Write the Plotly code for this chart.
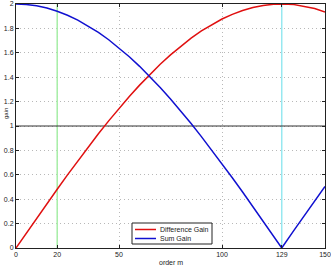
import plotly.graph_objects as go

m_vals = [0, 5, 10, 15, 20, 25, 30, 35, 40, 45, 50, 55, 60, 65, 70, 75, 80, 85, 90, 95,
          100, 105, 110, 115, 120, 125, 129, 135, 140, 145, 150]
diff_gain = [0.0, 0.122, 0.243, 0.363, 0.482, 0.599, 0.714, 0.827, 0.936, 1.042, 1.144,
             1.242, 1.335, 1.423, 1.506, 1.583, 1.655, 1.720, 1.779, 1.831, 1.877, 1.915,
             1.947, 1.971, 1.988, 1.998, 2.0, 1.995, 1.982, 1.963, 1.935]
sum_gain = [2.0, 1.996, 1.985, 1.967, 1.941, 1.908, 1.868, 1.821, 1.768, 1.707, 1.641,
            1.568, 1.489, 1.405, 1.316, 1.222, 1.123, 1.021, 0.913, 0.804, 0.691, 0.576,
            0.459, 0.339, 0.219, 0.097, 0.0, 0.146, 0.268, 0.387, 0.504]
x_ticks = [0, 20, 50, 100, 129, 150]
y_ticks = [0, 0.2, 0.4, 0.6, 0.8, 1, 1.2, 1.4, 1.6, 1.8, 2]
series_names = ["Difference Gain", "Sum Gain"]
series_colors = ["#e01010", "#1010d0"]
green_marker_x = 20
cyan_marker_x = 129
ref_level_y = 1

W, H = 331, 269
ML, MR, MT, MB = 16, 6, 4, 21
PW, PH = W - ML - MR, H - MT - MB


def px_x(p):
    return (p - ML) / PW


def px_y(p):
    return (H - MB - p) / PH


fig = go.Figure()
fig.add_trace(go.Scatter(x=[green_marker_x, green_marker_x], y=[0, 2], mode="lines",
                         line=dict(color="#a6eea6", width=1.5), showlegend=False, hoverinfo="skip"))
fig.add_trace(go.Scatter(x=[cyan_marker_x, cyan_marker_x], y=[0, 2], mode="lines",
                         line=dict(color="#96e8f0", width=1.5), showlegend=False, hoverinfo="skip"))
fig.add_trace(go.Scatter(x=[0, 150], y=[ref_level_y, ref_level_y], mode="lines",
                         line=dict(color="#333333", width=1), showlegend=False, hoverinfo="skip"))
for name, ys, col in zip(series_names, [diff_gain, sum_gain], series_colors):
    fig.add_trace(go.Scatter(x=m_vals, y=ys, mode="lines", name=name,
                             line=dict(color=col, width=1.5), showlegend=False))

axis_common = dict(showline=True, linecolor="#222222", linewidth=1, mirror="ticks",
                   ticks="inside", ticklen=3, tickcolor="#222222",
                   showgrid=True, gridcolor="#b8b8b8", griddash="1px,3px", gridwidth=1,
                   zeroline=False, tickfont=dict(size=7, color="#222222"), automargin=False)

fig.update_xaxes(range=[0, 150], tickvals=x_ticks, ticktext=[str(v) for v in x_ticks],
                 **axis_common)
fig.update_yaxes(range=[0, 2], tickvals=y_ticks,
                 ticktext=["0", "0.2", "0.4", "0.6", "0.8", "1", "1.2", "1.4", "1.6", "1.8", "2"],
                 **axis_common)

# manual compact legend (MATLAB style)
shapes = [dict(type="rect", xref="paper", yref="paper",
               x0=px_x(132), x1=px_x(212), y0=px_y(244), y1=px_y(223),
               line=dict(color="#222222", width=1), fillcolor="white", layer="above")]
annotations = []
for i, (name, col) in enumerate(zip(series_names, series_colors)):
    yy = 229.5 + i * 9
    shapes.append(dict(type="line", xref="paper", yref="paper",
                       x0=px_x(135), x1=px_x(156), y0=px_y(yy), y1=px_y(yy),
                       line=dict(color=col, width=1.5), layer="above"))
    annotations.append(dict(text=name, xref="paper", yref="paper", x=px_x(158), y=px_y(yy),
                            xanchor="left", yanchor="middle", showarrow=False,
                            font=dict(size=7, color="#222222")))

annotations.append(dict(text="order m", xref="paper", yref="paper", x=0.5, y=px_y(262),
                        xanchor="center", yanchor="middle", showarrow=False,
                        font=dict(size=7, color="#222222")))
annotations.append(dict(text="gain", xref="paper", yref="paper", x=px_x(1), y=px_y(114),
                        xanchor="left", yanchor="middle", showarrow=False, textangle=-90,
                        font=dict(size=6, color="#222222")))

fig.update_layout(
    width=W, height=H,
    margin=dict(l=ML, r=MR, t=MT, b=MB),
    paper_bgcolor="white", plot_bgcolor="white",
    font=dict(family="Liberation Sans, Arial, sans-serif", size=7, color="#222222"),
    shapes=shapes, annotations=annotations, showlegend=False,
)

fig.write_html("out.html")
